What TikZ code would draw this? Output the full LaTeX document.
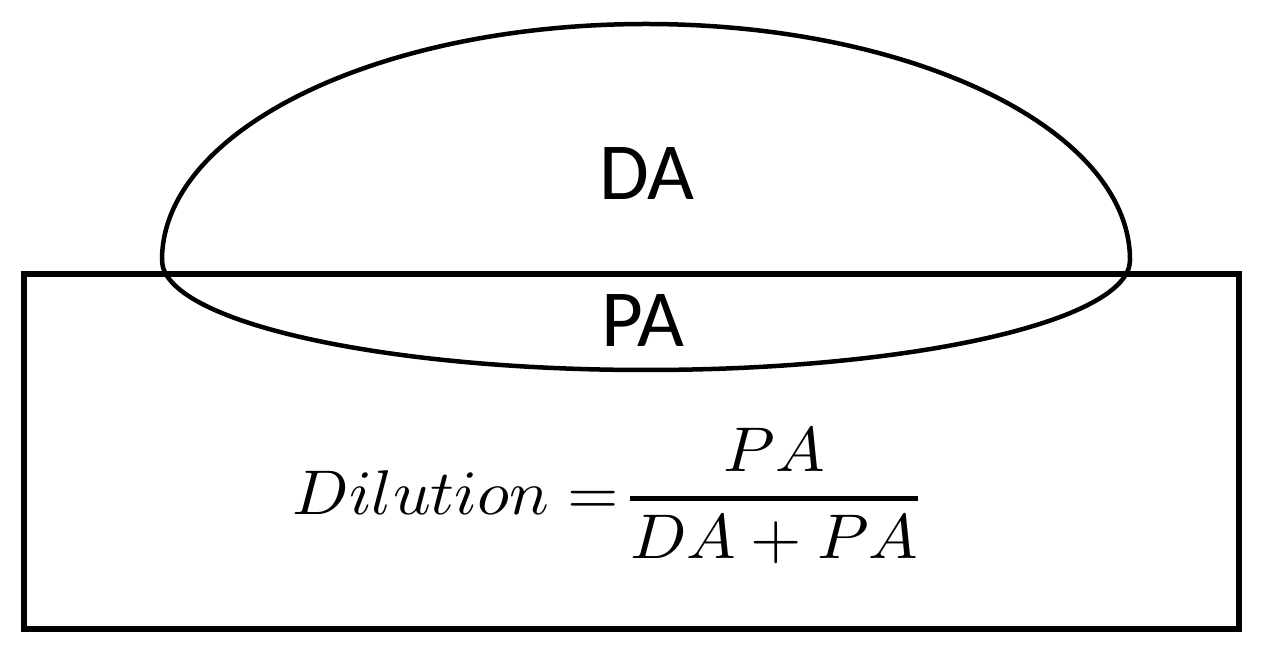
\documentclass[tikz,border=0pt]{standalone}
\usepackage{amsmath}
\usepackage{graphicx}
\usepackage{fontspec}
\newfontfamily\labelfont{Carlito}
\tikzset{
  boxline/.style={line width=6pt},
  domeline/.style={line width=4.5pt},
  lbl/.style={font=\labelfont\fontsize{81pt}{81pt}\selectfont, inner sep=0pt, anchor=base}
}
\begin{document}
\begin{tikzpicture}[x=1pt,y=1pt]
\useasboundingbox (0,0) rectangle (1266,651);
% substrate rectangle
\draw[boxline] (24,22) rectangle (1239,377);
% dome (upper part) and penetration (lower part)
\draw[domeline] (162,391) arc[start angle=180,end angle=0,x radius=484,y radius=236];
\draw[domeline] (1130,391) arc[start angle=0,end angle=-180,x radius=484,y radius=110];
% labels
\node[lbl] (da) at (647,451) {DA};
\node[lbl] (pa) at (643,304) {PA};
\node[inner sep=0pt] (formula) at (605.5,155) {\resizebox*{625pt}{135pt}{\nulldelimiterspace=0pt$\displaystyle Dilution\mskip5mu{=}\mskip3mu\genfrac{}{}{0.75pt}{0}{PA}{DA+PA}$}};
\end{tikzpicture}
\end{document}
